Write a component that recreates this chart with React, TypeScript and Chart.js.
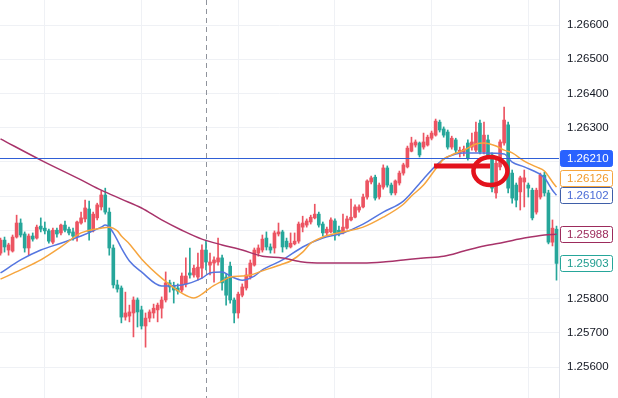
import React, { useEffect, useRef } from "react";
import { Chart, registerables } from "chart.js";

Chart.register(...registerables);

// ---- candle data (hourly OHLC) ----
const opens = [
  1.25933, 1.25971, 1.25942, 1.25939, 1.25980, 1.26021, 1.25989, 1.25948, 1.25983, 1.25977,
  1.26012, 1.26006, 1.25998, 1.25965, 1.26000, 1.25992, 1.26015, 1.26003, 1.25995, 1.25983,
  1.26021, 1.26033, 1.26062, 1.25998, 1.26036, 1.26068, 1.26103, 1.26053, 1.25948, 1.25840,
  1.25831, 1.25746, 1.25749, 1.25758, 1.25796, 1.25767, 1.25720, 1.25743, 1.25758, 1.25767,
  1.25772, 1.25796, 1.25846, 1.25837, 1.25831, 1.25825, 1.25843, 1.25875, 1.25869, 1.25863,
  1.25889, 1.25942, 1.25898, 1.25904, 1.25907, 1.25919, 1.25863, 1.25895, 1.25796, 1.25758,
  1.25810, 1.25831, 1.25863, 1.25898, 1.25933, 1.25942, 1.25977, 1.25951, 1.25948, 1.25989,
  1.25995, 1.25968, 1.25951, 1.25960, 1.25968, 1.26009, 1.26015, 1.26024, 1.26036, 1.26047,
  1.26018, 1.25992, 1.25995, 1.26027, 1.26000, 1.25992, 1.26006, 1.26030, 1.26038, 1.26059,
  1.26068, 1.26097, 1.26141, 1.26155, 1.26097, 1.26126, 1.26182, 1.26132, 1.26109, 1.26138,
  1.26167, 1.26185, 1.26231, 1.26249, 1.26255, 1.26243, 1.26249, 1.26269, 1.26278, 1.26316,
  1.26296, 1.26287, 1.26243, 1.26264, 1.26226, 1.26229, 1.26255, 1.26243, 1.26234, 1.26313,
  1.26229, 1.26264, 1.26220, 1.26109, 1.26185, 1.26255, 1.26308, 1.26167, 1.26132, 1.26112,
  1.26141, 1.26132, 1.26117, 1.26053, 1.26097, 1.26161, 1.26109, 1.25965, 1.26003,
];
const closes = [
  1.25971, 1.25951, 1.25957, 1.25980, 1.26021, 1.25986, 1.25948, 1.25983, 1.25974, 1.26009,
  1.26003, 1.25998, 1.25968, 1.26000, 1.25989, 1.26015, 1.26000, 1.25992, 1.25983, 1.26024,
  1.26036, 1.26065, 1.25995, 1.26047, 1.26074, 1.26103, 1.26053, 1.25948, 1.25840, 1.25828,
  1.25746, 1.25758, 1.25761, 1.25796, 1.25761, 1.25720, 1.25743, 1.25761, 1.25772, 1.25781,
  1.25796, 1.25846, 1.25834, 1.25825, 1.25822, 1.25866, 1.25866, 1.25869, 1.25889, 1.25892,
  1.25942, 1.25907, 1.25907, 1.25913, 1.25919, 1.25846, 1.25810, 1.25796, 1.25758, 1.25813,
  1.25834, 1.25869, 1.25904, 1.25942, 1.25948, 1.25974, 1.25951, 1.25942, 1.25992, 1.25995,
  1.25951, 1.25951, 1.25962, 1.25968, 1.26018, 1.26021, 1.26027, 1.26038, 1.26047, 1.26015,
  1.25992, 1.26003, 1.26030, 1.25992, 1.25992, 1.26009, 1.26033, 1.26038, 1.26068, 1.26068,
  1.26097, 1.26144, 1.26153, 1.26094, 1.26132, 1.26182, 1.26132, 1.26109, 1.26144, 1.26167,
  1.26191, 1.26240, 1.26255, 1.26258, 1.26220, 1.26258, 1.26272, 1.26284, 1.26319, 1.26293,
  1.26278, 1.26243, 1.26269, 1.26234, 1.26234, 1.26237, 1.26211, 1.26258, 1.26287, 1.26229,
  1.26278, 1.26220, 1.26123, 1.26196, 1.26258, 1.26322, 1.26123, 1.26094, 1.26088, 1.26153,
  1.26153, 1.26123, 1.26036, 1.26117, 1.26161, 1.26109, 1.25965, 1.26006, 1.25903,
];
const highs = [
  1.25977, 1.25980, 1.25962, 1.25986, 1.26044, 1.26033, 1.25995, 1.25989, 1.25992, 1.26015,
  1.26036, 1.26024, 1.26003, 1.26006, 1.26006, 1.26018, 1.26027, 1.26009, 1.26006, 1.26027,
  1.26053, 1.26088, 1.26085, 1.26053, 1.26079, 1.26115, 1.26123, 1.26065, 1.25957, 1.25854,
  1.25837, 1.25819, 1.25781, 1.25805, 1.25802, 1.25778, 1.25758, 1.25767, 1.25784, 1.25787,
  1.25805, 1.25878, 1.25854, 1.25848, 1.25843, 1.25875, 1.25919, 1.25948, 1.25898, 1.25933,
  1.25957, 1.25971, 1.25933, 1.25922, 1.25977, 1.25927, 1.25872, 1.25907, 1.25802, 1.25819,
  1.25843, 1.25889, 1.25913, 1.25948, 1.25957, 1.25986, 1.25995, 1.25960, 1.25998, 1.26021,
  1.26000, 1.25977, 1.25992, 1.25992, 1.26024, 1.26041, 1.26033, 1.26044, 1.26076, 1.26053,
  1.26024, 1.26009, 1.26036, 1.26033, 1.26012, 1.26047, 1.26041, 1.26091, 1.26074, 1.26074,
  1.26106, 1.26147, 1.26158, 1.26161, 1.26138, 1.26191, 1.26188, 1.26138, 1.26147, 1.26173,
  1.26196, 1.26246, 1.26272, 1.26264, 1.26258, 1.26284, 1.26278, 1.26290, 1.26325, 1.26322,
  1.26302, 1.26293, 1.26275, 1.26269, 1.26243, 1.26246, 1.26264, 1.26284, 1.26316, 1.26322,
  1.26316, 1.26278, 1.26226, 1.26205, 1.26264, 1.26360, 1.26316, 1.26176, 1.26138, 1.26158,
  1.26176, 1.26138, 1.26123, 1.26123, 1.26167, 1.26170, 1.26117, 1.26030, 1.26012,
];
const lows = [
  1.25927, 1.25936, 1.25927, 1.25936, 1.25977, 1.25980, 1.25936, 1.25927, 1.25968, 1.25974,
  1.25995, 1.25989, 1.25962, 1.25960, 1.25980, 1.25986, 1.25995, 1.25986, 1.25971, 1.25968,
  1.26018, 1.26024, 1.25971, 1.25995, 1.26030, 1.26059, 1.26047, 1.25927, 1.25831, 1.25819,
  1.25729, 1.25737, 1.25732, 1.25688, 1.25717, 1.25711, 1.25658, 1.25732, 1.25743, 1.25732,
  1.25743, 1.25790, 1.25819, 1.25787, 1.25813, 1.25819, 1.25834, 1.25860, 1.25863, 1.25854,
  1.25860, 1.25884, 1.25869, 1.25848, 1.25898, 1.25825, 1.25781, 1.25787, 1.25729, 1.25743,
  1.25805, 1.25825, 1.25857, 1.25895, 1.25924, 1.25936, 1.25942, 1.25933, 1.25933, 1.25983,
  1.25936, 1.25945, 1.25948, 1.25957, 1.25962, 1.25995, 1.26009, 1.26018, 1.26033, 1.26009,
  1.25983, 1.25986, 1.25992, 1.25971, 1.25983, 1.25989, 1.26003, 1.26027, 1.26036, 1.26053,
  1.26065, 1.26091, 1.26135, 1.26088, 1.26091, 1.26120, 1.26126, 1.26103, 1.26103, 1.26132,
  1.26161, 1.26182, 1.26229, 1.26243, 1.26214, 1.26237, 1.26246, 1.26264, 1.26275, 1.26287,
  1.26272, 1.26237, 1.26237, 1.26226, 1.26214, 1.26217, 1.26205, 1.26234, 1.26229, 1.26223,
  1.26223, 1.26211, 1.26112, 1.26094, 1.26176, 1.26249, 1.26109, 1.26079, 1.26068, 1.26059,
  1.26068, 1.26097, 1.26030, 1.26047, 1.26091, 1.26100, 1.25960, 1.25954, 1.25854,
];

// ---- moving averages (read at sampled candle indices) ----
const fastMaIdx = [0, 5, 10, 15, 20, 25, 26, 27, 28, 29, 30, 32, 35, 40, 45, 50, 52, 55, 57, 60, 63, 65, 70, 75, 80, 85, 90, 95, 100, 105, 108, 110, 113, 115, 120, 125, 127, 130, 135, 137, 138];
const fastMaVal = [
  1.25875, 1.25913, 1.25942, 1.25962, 1.25983, 1.26009, 1.26015, 1.26009, 1.25992, 1.25971,
  1.25948, 1.25910, 1.25878, 1.25837, 1.25840, 1.25860, 1.25875, 1.25878, 1.25866, 1.25854,
  1.25866, 1.25884, 1.25913, 1.25951, 1.25977, 1.25992, 1.26018, 1.26053, 1.26085, 1.26150,
  1.26188, 1.26208, 1.26223, 1.26226, 1.26226, 1.26223, 1.26199, 1.26185, 1.26153, 1.26117,
  1.26102,
];
const slowMaIdx = [0, 5, 10, 15, 20, 25, 27, 29, 30, 32, 35, 40, 45, 48, 50, 52, 55, 57, 60, 62, 65, 70, 72, 75, 77, 80, 85, 90, 95, 100, 102, 105, 108, 110, 112, 115, 118, 120, 123, 125, 127, 130, 133, 135, 137, 138];
const slowMaVal = [
  1.25857, 1.25884, 1.25913, 1.25951, 1.25992, 1.26006, 1.26009, 1.25998, 1.25983, 1.25960,
  1.25916, 1.25860, 1.25816, 1.25802, 1.25813, 1.25831, 1.25851, 1.25863, 1.25866, 1.25869,
  1.25881, 1.25901, 1.25910, 1.25936, 1.25962, 1.25980, 1.25995, 1.26009, 1.26038, 1.26076,
  1.26100, 1.26132, 1.26179, 1.26208, 1.26220, 1.26234, 1.26252, 1.26255, 1.26246, 1.26234,
  1.26226, 1.26202, 1.26185, 1.26173, 1.26141, 1.26126,
];
const longMaIdx = [0, 10, 20, 25, 30, 35, 40, 45, 50, 55, 60, 65, 70, 75, 80, 85, 90, 95, 100, 105, 110, 115, 120, 125, 130, 135, 138];
const longMaVal = [
  1.26267, 1.26205, 1.26147, 1.26117, 1.26091, 1.26065, 1.26030, 1.26000, 1.25974, 1.25957,
  1.25942, 1.25924, 1.25919, 1.25907, 1.25904, 1.25904, 1.25904, 1.25907, 1.25913, 1.25919,
  1.25924, 1.25939, 1.25954, 1.25965, 1.25977, 1.25986, 1.25988,
];

// ---- axis / drawing values ----
const priceTicks = [1.256, 1.257, 1.258, 1.259, 1.26, 1.261, 1.262, 1.263, 1.264, 1.265, 1.266];
const timeGridIdx = [11, 35, 59, 83, 107, 131];
const sessionBreakIdx = 51;
const hLinePrice = 1.2621;
const markLine = { fromIdx: 107.6, toIdx: 121.5, price: 1.26188 };
const markCircle = { idx: 121.6, price: 1.26173 };
const yMin = 1.255094;
const yMax = 1.266731;
const xMin = -0.124;
const xMax = 138.62;

const UP = "#ec5462";
const DOWN = "#26a69a";
const BLUE_MA = "#5576e0";
const ORANGE_MA = "#f6a53e";
const MAROON_MA = "#a8336a";
const GRID = "#eff1f5";
const FONT = '"Liberation Sans", Arial, sans-serif';
const FONT_SIZE = 11.5;

const axisLabels = [
  { value: hLinePrice, border: "#2962ff", fill: "#2962ff", text: "#ffffff" },
  { value: slowMaVal[slowMaVal.length - 1], border: ORANGE_MA, fill: "#ffffff", text: "#f09a2c" },
  { value: fastMaVal[fastMaVal.length - 1], border: "#3f5fa8", fill: "#ffffff", text: "#4a6bd6" },
  { value: longMaVal[longMaVal.length - 1], border: "#9c2b5c", fill: "#ffffff", text: "#9c2b5c" },
  { value: closes[closes.length - 1], border: DOWN, fill: "#ffffff", text: "#1f9c8f" },
];

const overlayPlugin = {
  id: "overlay",
  beforeDatasetsDraw(chart: any) {
    const { ctx, chartArea, scales } = chart;
    const sx = Math.round(scales.x.getPixelForValue(sessionBreakIdx)) + 0.5;
    ctx.save();
    ctx.strokeStyle = "#8f939c";
    ctx.lineWidth = 1;
    ctx.setLineDash([5, 4]);
    ctx.beginPath();
    ctx.moveTo(sx, chartArea.top);
    ctx.lineTo(sx, chartArea.bottom);
    ctx.stroke();
    ctx.restore();
  },
  afterDatasetsDraw(chart: any) {
    const { ctx, chartArea, scales } = chart;
    const x = scales.x;
    const y = scales.y;
    ctx.save();
    const hy = Math.round(y.getPixelForValue(hLinePrice)) + 0.5;
    ctx.strokeStyle = "#2f5fd6";
    ctx.lineWidth = 1.2;
    ctx.beginPath();
    ctx.moveTo(chartArea.left, hy);
    ctx.lineTo(chartArea.right, hy);
    ctx.stroke();

    ctx.strokeStyle = "#e3121c";
    ctx.lineWidth = 5;
    ctx.beginPath();
    const ly = y.getPixelForValue(markLine.price);
    ctx.moveTo(x.getPixelForValue(markLine.fromIdx), ly);
    ctx.lineTo(x.getPixelForValue(markLine.toIdx), ly);
    ctx.stroke();
    ctx.lineWidth = 4.5;
    ctx.beginPath();
    ctx.ellipse(x.getPixelForValue(markCircle.idx), y.getPixelForValue(markCircle.price), 17, 14, 0, 0, Math.PI * 2);
    ctx.stroke();
    ctx.restore();
  },
  afterDraw(chart: any) {
    const { ctx, chartArea, scales, width } = chart;
    const y = scales.y;
    const boxes = axisLabels.map((l) => ({ ...l, py: y.getPixelForValue(l.value) }));
    boxes.sort((a, b) => a.py - b.py);
    for (let k = boxes.length - 2; k >= 0; k--) {
      boxes[k].py = Math.min(boxes[k].py, boxes[k + 1].py - 17);
    }
    ctx.save();
    const bx = chartArea.right + 1;
    const bw = 52;
    const bh = 16;
    // hide axis tick labels sitting behind the value boxes
    ctx.fillStyle = "#ffffff";
    boxes.forEach((b) => {
      ctx.fillRect(bx, b.py - 11, width - bx, 22);
    });
    boxes.forEach((b) => {
      const top = Math.round(b.py - bh / 2) + 0.5;
      ctx.beginPath();
      ctx.roundRect(bx + 0.5, top, bw, bh, 2);
      ctx.fillStyle = b.fill;
      ctx.fill();
      ctx.strokeStyle = b.border;
      ctx.lineWidth = 1;
      ctx.stroke();
      ctx.fillStyle = b.text;
      ctx.font = FONT_SIZE + "px " + FONT;
      ctx.textAlign = "left";
      ctx.textBaseline = "middle";
      ctx.fillText(b.value.toFixed(5), chartArea.right + 8, top + bh / 2);
    });
    ctx.restore();
  },
};

export default function App() {
  const ref = useRef<HTMLCanvasElement | null>(null);

  useEffect(() => {
    document.body.style.margin = "0";
    if (!ref.current) return;
    const idx = opens.map((_, i) => i);
    const colors = idx.map((i) => (closes[i] >= opens[i] ? UP : DOWN));
    const lineDs = (label: string, xs: number[], vs: number[], color: string) => ({
      type: "line" as const,
      label,
      data: xs.map((v, k) => ({ x: v, y: vs[k] })),
      borderColor: color,
      borderWidth: 1.5,
      pointRadius: 0,
      cubicInterpolationMode: "monotone" as const,
      order: 0,
    });

    const chart = new Chart(ref.current, {
      type: "bar",
      data: {
        datasets: [
          lineDs("MA long", longMaIdx, longMaVal, MAROON_MA),
          lineDs("MA slow", slowMaIdx, slowMaVal, ORANGE_MA),
          lineDs("MA fast", fastMaIdx, fastMaVal, BLUE_MA),
          {
            type: "bar",
            label: "body",
            data: idx.map((i) => ({ x: i, y: [opens[i], closes[i]] })) as any,
            backgroundColor: colors,
            barThickness: 3,
            minBarLength: 1,
            grouped: false,
            borderWidth: 0,
            order: 1,
          } as any,
          {
            type: "bar",
            label: "wick",
            data: idx.map((i) => ({ x: i, y: [lows[i], highs[i]] })) as any,
            backgroundColor: colors,
            barThickness: 1,
            grouped: false,
            borderWidth: 0,
            order: 2,
          } as any,
        ],
      },
      options: {
        responsive: false,
        animation: false,
        devicePixelRatio: 1,
        events: [],
        layout: { padding: 0 },
        plugins: { legend: { display: false }, tooltip: { enabled: false } },
        scales: {
          x: {
            type: "linear",
            min: xMin,
            max: xMax,
            offset: false,
            grid: { color: GRID, drawTicks: false, offset: false },
            border: { display: false },
            ticks: { display: false },
            afterBuildTicks: (s: any) => {
              s.ticks = timeGridIdx.map((v) => ({ value: v }));
            },
            afterFit: (s: any) => {
              s.height = 0;
              s.paddingLeft = 0;
              s.paddingRight = 0;
            },
          },
          y: {
            type: "linear",
            position: "right",
            min: yMin,
            max: yMax,
            grid: { color: GRID, drawTicks: false },
            border: { display: true, color: "#e0e3eb" },
            ticks: {
              padding: 8,
              color: "#131722",
              font: { family: FONT, size: FONT_SIZE },
              autoSkip: false,
              callback: (v: any) => Number(v).toFixed(5),
            },
            afterBuildTicks: (s: any) => {
              s.ticks = priceTicks.map((v) => ({ value: v }));
            },
            afterFit: (s: any) => {
              s.width = 59;
              s.paddingTop = 0;
              s.paddingBottom = 0;
            },
          },
        },
      } as any,
      plugins: [overlayPlugin],
    });
    return () => chart.destroy();
  }, []);

  return (
    <div style={{ width: 618, height: 398, position: "relative", background: "#ffffff" }}>
      <canvas ref={ref} width={618} height={398} style={{ display: "block" }} />
    </div>
  );
}
